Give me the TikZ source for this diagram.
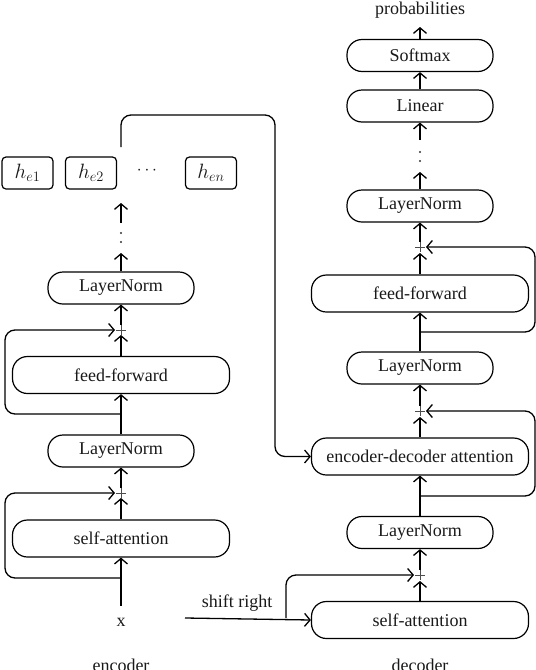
\documentclass[tikz,border=0pt]{standalone}
\usepackage{fontspec}
\setmainfont{Liberation Serif}
\usetikzlibrary{arrows.meta,calc}
\begin{document}
\begin{tikzpicture}[x=1pt,y=-1pt,
  every node/.style={font=\fontsize{18}{20}\selectfont, text=black!90},
  blk/.style={draw, line width=1.2pt, rounded corners=15pt, inner sep=0pt, minimum height=32pt, minimum width=146pt},
  wide/.style={blk, minimum width=217pt, minimum height=37pt},
  hbox/.style={draw, line width=1.2pt, rounded corners=4pt, inner sep=0pt, minimum width=51pt, minimum height=32pt, font=\fontsize{22}{24}\selectfont},
  conn/.style={line width=1.3pt},
  arr/.style={conn, -{Straight Barb[length=5.5pt,width=13pt]}},
  lbl/.style={inner sep=0pt},
  plusmark/.pic={\draw[gray!60!black, line width=0.8pt] (-5,0)--(5,0) (0,-5)--(0,5);},
  dotmark/.style={fill=black!80, circle, inner sep=0pt, minimum size=2.2pt}
]
\useasboundingbox (0,0) rectangle (536,670);

% ---------------- Encoder ----------------
\node[hbox] (he1) at (27.5,173) {$h_{e1}$};
\node[hbox] (he2) at (91,173) {$h_{e2}$};
\node[hbox] (hen) at (211,173) {$h_{en}$};
\node[lbl] (hdots) at (147,171) {$\cdots$};

\coordinate (eTopA) at (121,223);
\coordinate (eTopB) at (121,203);
\coordinate (eMidA) at (121,253);
\node[dotmark] (ed1) at (121,233) {};
\node[dotmark] (ed2) at (121,242) {};

\node[blk] (eln2) at (121,288) {LayerNorm};
\coordinate (ep2) at (121,330);
\node[wide] (eff) at (121,375) {feed-forward};
\node[blk] (eln1) at (121,451) {LayerNorm};
\coordinate (ep1) at (121,493);
\node[wide] (esa) at (121,538.5) {self-attention};
\node[lbl] (x) at (121,622) {x};
\node[lbl] (enc) at (121,665) {encoder};

\draw[arr] (eTopA) -- (eTopB);
\draw[arr] (eln2.north) -- (eMidA);
\draw[arr] ($(ep2)+(0,-5)$) -- (eln2.south);
\pic at (ep2) {plusmark};
\draw[arr] (eff.north) -- ($(ep2)+(0,5)$);
\draw[arr] (eln1.north) -- (eff.south);
\draw[arr, rounded corners=10pt] (121,414) -| (5,330) -- ($(ep2)+(-6,0)$);
\draw[arr] ($(ep1)+(0,-5)$) -- (eln1.south);
\pic at (ep1) {plusmark};
\draw[arr] (esa.north) -- ($(ep1)+(0,5)$);
\draw[arr] ($(x.north)+(0,-12)$) -- (esa.south);
\draw[arr, rounded corners=10pt] (121,578) -| (5,493) -- ($(ep1)+(-6,0)$);

% ---------------- Decoder ----------------
\node[lbl] (prob) at (420,10) {probabilities};
\node[blk] (soft) at (420,55.5) {Softmax};
\node[blk] (lin) at (420,106) {Linear};
\coordinate (dA) at (420,140);
\coordinate (dB) at (420,172);
\node[dotmark] (dd1) at (420,152) {};
\node[dotmark] (dd2) at (420,161) {};
\node[blk] (dln3) at (420,206) {LayerNorm};
\coordinate (dp3) at (420,247);
\node[wide] (dff) at (420,293.5) {feed-forward};
\node[blk] (dln2) at (420,368) {LayerNorm};
\coordinate (dp2) at (420,411);
\node[wide] (eda) at (420,456.5) {encoder-decoder attention};
\node[blk] (dln1) at (420,532.5) {LayerNorm};
\coordinate (dp1) at (420,575);
\node[wide] (dsa) at (420,620) {self-attention};
\node[lbl] (dec) at (420,665) {decoder};
\node[lbl] (shift) at (237,603) {shift right};
\coordinate (sstart) at (185,618);
\coordinate (sbranch) at (286,618);

\draw[arr] (soft.north) -- (420,27);
\draw[arr] (lin.north) -- (soft.south);
\draw[arr] (dA) -- (lin.south);
\draw[arr] (dln3.north) -- (dB);
\draw[arr] ($(dp3)+(0,-5)$) -- (dln3.south);
\pic at (dp3) {plusmark};
\draw[arr] (dff.north) -- ($(dp3)+(0,6)$);
\draw[arr] (dln2.north) -- (dff.south);
\draw[arr, rounded corners=10pt] (420,332) -| (535,247) -- ($(dp3)+(6,0)$);
\draw[arr] ($(dp2)+(0,-5)$) -- (dln2.south);
\pic at (dp2) {plusmark};
\draw[arr] (eda.north) -- ($(dp2)+(0,6)$);
\draw[arr] (dln1.north) -- (eda.south);
\draw[arr, rounded corners=10pt] (420,496) -| (535,411) -- ($(dp2)+(6,0)$);
\draw[arr] ($(dp1)+(0,-5)$) -- (dln1.south);
\pic at (dp1) {plusmark};
\draw[arr] (dsa.north) -- ($(dp1)+(0,6)$);

% shift right input
\draw[arr] (sstart) -- (dsa.west);
\draw[arr, rounded corners=10pt] (sbranch) |- ($(dp1)+(-6,0)$);

% encoder output to encoder-decoder attention
\draw[arr, rounded corners=10pt] (121,147) |- (275,115) |- (eda.west);

\end{tikzpicture}
\end{document}
